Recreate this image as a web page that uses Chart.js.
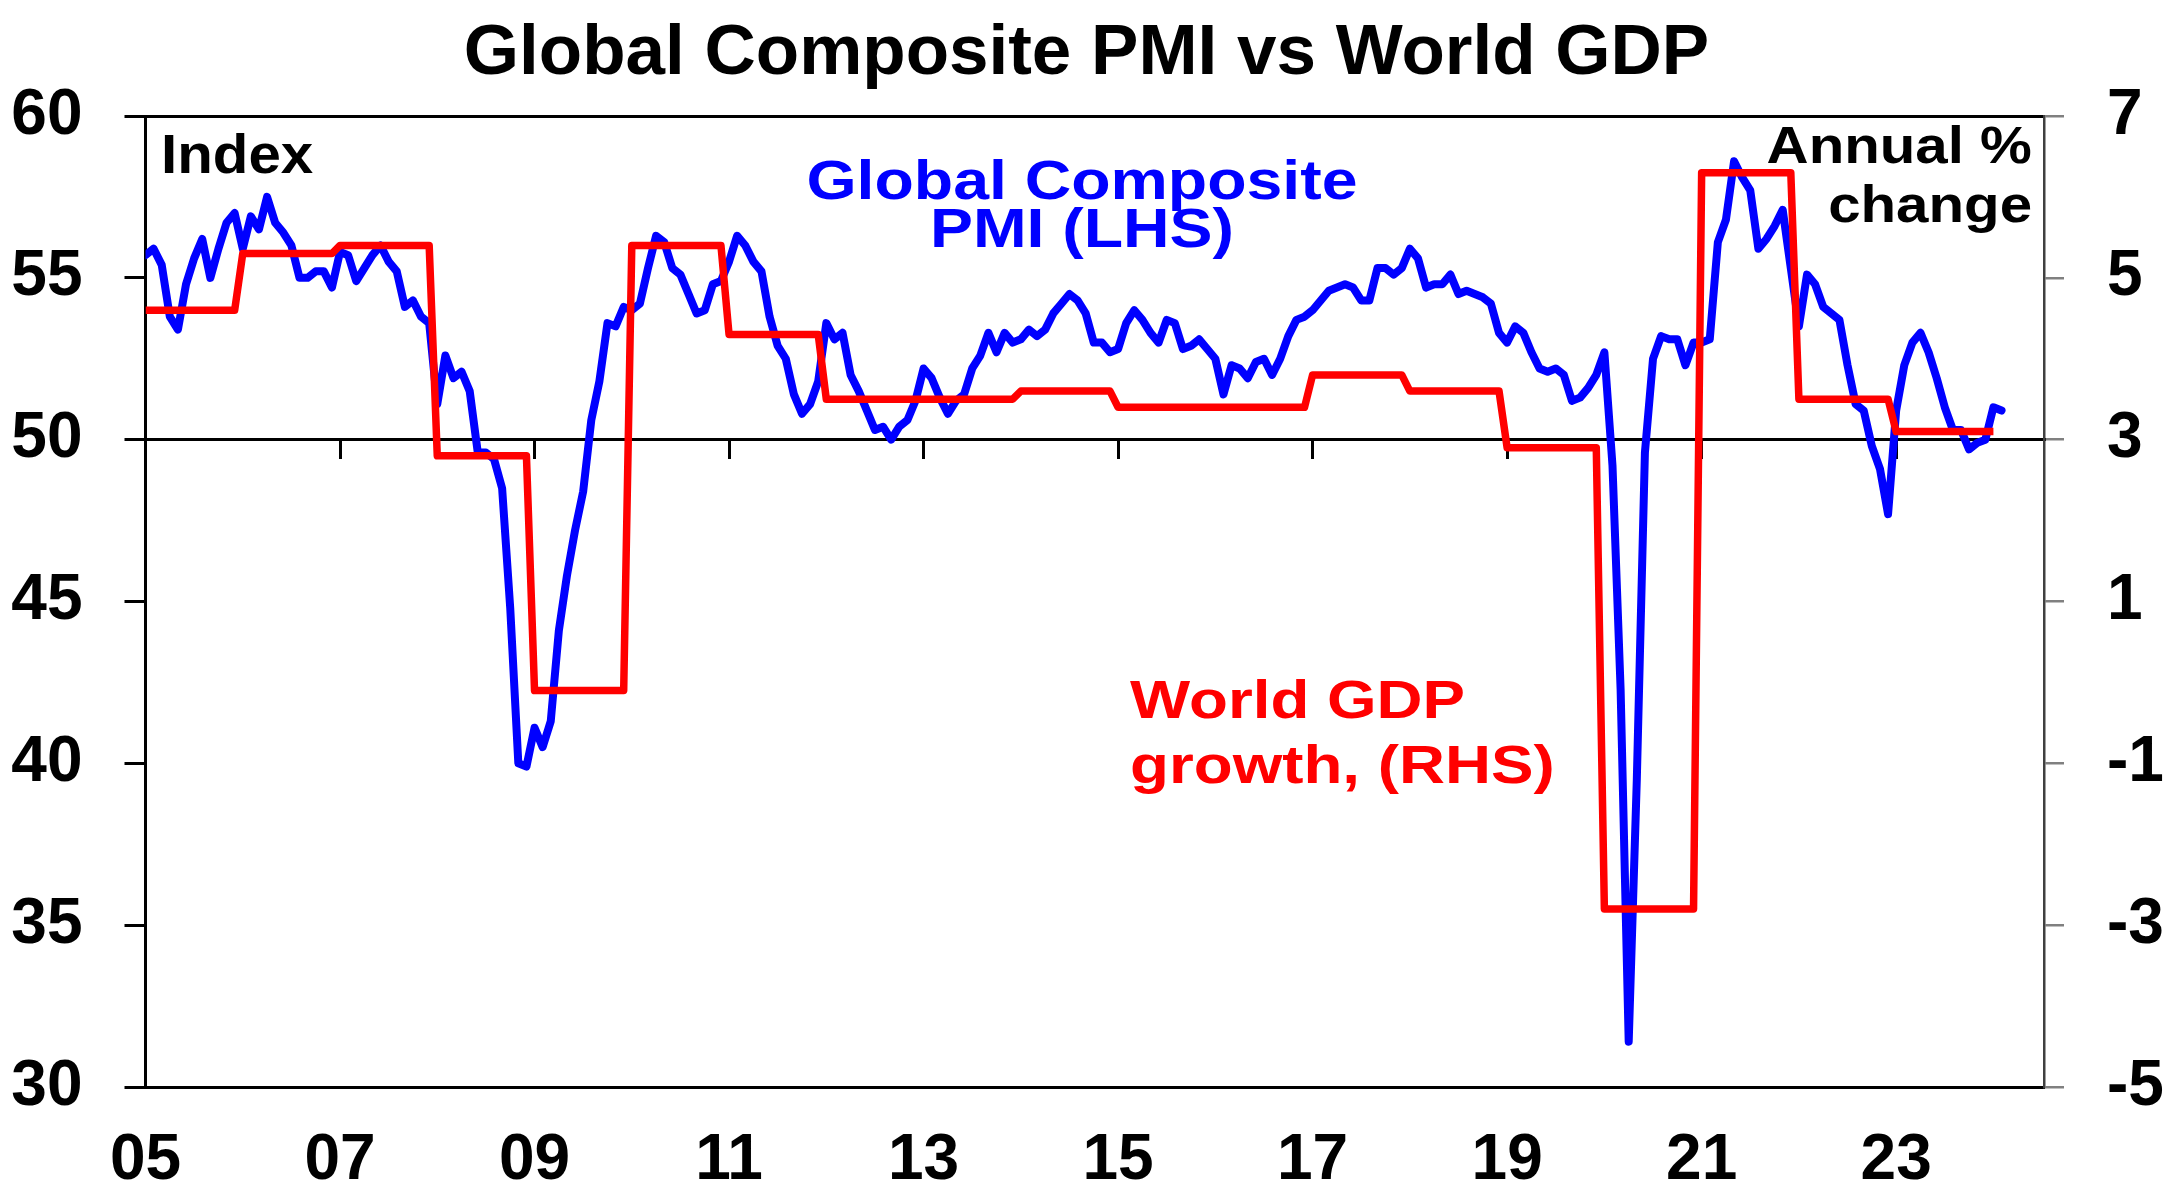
<!DOCTYPE html>
<html><head><meta charset="utf-8">
<script src="https://cdn.jsdelivr.net/npm/chart.js@4.4.1/dist/chart.umd.min.js"></script>
<style>
html,body{margin:0;padding:0;background:#fff;}
#wrap{position:relative;width:2173px;height:1200px;overflow:hidden;}
#c{position:absolute;left:0;top:0;}
.lbl{position:absolute;font-family:'Liberation Sans',Arial,sans-serif;font-weight:bold;white-space:nowrap;line-height:1;}
</style></head><body>
<div id="wrap">
<canvas id="c" width="2173" height="1200"></canvas>
<div class="lbl" style="left:161px;top:127px;font-size:55px;color:#000;transform:scaleX(1.06);transform-origin:left top;">Index</div>
<div class="lbl" style="left:582px;top:152px;width:1000px;text-align:center;font-size:56px;color:#0000ff;transform:scaleX(1.15);transform-origin:center top;">Global Composite</div>
<div class="lbl" style="left:582px;top:200px;width:1000px;text-align:center;font-size:56px;color:#0000ff;transform:scaleX(1.15);transform-origin:center top;">PMI (LHS)</div>
<div class="lbl" style="right:141px;top:119px;text-align:right;font-size:52px;color:#000;transform:scaleX(1.12);transform-origin:right top;">Annual %</div>
<div class="lbl" style="right:141px;top:178px;text-align:right;font-size:52px;color:#000;transform:scaleX(1.12);transform-origin:right top;">change</div>
<div class="lbl" style="left:1130px;top:672px;font-size:54px;color:#ff0000;transform:scaleX(1.18);transform-origin:left top;">World GDP</div>
<div class="lbl" style="left:1130px;top:737px;font-size:54px;color:#ff0000;transform:scaleX(1.18);transform-origin:left top;">growth, (RHS)</div>
</div>
<script>
// ---- data ----
const chartTitle = 'Global Composite PMI vs World GDP';
const pmiStartYear = 2005; // monthly series, first value = Jan 2005
const pmiValues = [
  55.7, 55.9, 55.4, 53.8, 53.4, 54.8, 55.6, 56.2, 55.0, 55.9, 56.7, 57.0,
  55.9, 56.9, 56.5, 57.5, 56.7, 56.4, 56.0, 55.0, 55.0, 55.2, 55.2, 54.7,
  55.8, 55.7, 54.9, 55.3, 55.7, 56.0, 55.5, 55.2, 54.1, 54.3, 53.8, 53.6,
  51.1, 52.6, 51.9, 52.1, 51.5, 49.6, 49.6, 49.4, 48.5, 44.8, 40.0, 39.9,
  41.1, 40.5, 41.3, 44.1, 45.8, 47.2, 48.4, 50.6, 51.8, 53.6, 53.5, 54.1,
  54.0, 54.2, 55.3, 56.3, 56.1, 55.3, 55.1, 54.5, 53.9, 54.0, 54.8, 54.9,
  55.5, 56.3, 56.0, 55.5, 55.2, 53.8, 52.9, 52.5, 51.4, 50.8, 51.1, 51.8,
  53.6, 53.1, 53.3, 52.0, 51.5, 50.9, 50.3, 50.4, 50.0, 50.4, 50.6, 51.2,
  52.2, 51.9, 51.3, 50.8, 51.2, 51.4, 52.2, 52.6, 53.3, 52.7, 53.3, 53.0,
  53.1, 53.4, 53.2, 53.4, 53.9, 54.2, 54.5, 54.3, 53.9, 53.0, 53.0, 52.7,
  52.8, 53.6, 54.0, 53.7, 53.3, 53.0, 53.7, 53.6, 52.8, 52.9, 53.1, 52.8,
  52.5, 51.4, 52.3, 52.2, 51.9, 52.4, 52.5, 52.0, 52.5, 53.2, 53.7, 53.8,
  54.0, 54.3, 54.6, 54.7, 54.8, 54.7, 54.3, 54.3, 55.3, 55.3, 55.1, 55.3,
  55.9, 55.6, 54.7, 54.8, 54.8, 55.1, 54.5, 54.6, 54.5, 54.4, 54.2, 53.3,
  53.0, 53.5, 53.3, 52.7, 52.2, 52.1, 52.2, 52.0, 51.2, 51.3, 51.6, 52.0,
  52.7, 49.2, 42.3, 31.4, 39.5, 49.6, 52.5, 53.2, 53.1, 53.1, 52.3, 53.0,
  53.0, 53.1, 56.1, 56.8, 58.6, 58.1, 57.7, 55.9, 56.2, 56.6, 57.1, 55.3,
  53.5, 55.1, 54.8, 54.1, 53.9, 53.7, 52.3, 51.1, 50.9, 49.8, 49.1, 47.7,
  50.9, 52.3, 53.0, 53.3, 52.7, 51.9, 51.0, 50.3, 50.3, 49.7, 49.9, 50.0,
  51.0, 50.9
];
// annual world GDP growth, shown as a level held through each year
const gdpYears  = [2005, 2006, 2007, 2008, 2009, 2010, 2011, 2012, 2013, 2014, 2015, 2016, 2017, 2018, 2019, 2020, 2021, 2022, 2023, 2024];
const gdpGrowth = [ 4.6,  5.3,  5.4,  2.8, -0.1,  5.4,  4.3,  3.5,  3.5,  3.6,  3.4,  3.4,  3.8,  3.6,  2.9, -2.8,  6.3,  3.5,  3.1,  3.1];
const gdpLastMonth = 2024; // series ends Jan 2024
const xTickYears  = [2005, 2007, 2009, 2011, 2013, 2015, 2017, 2019, 2021, 2023];
const xTickLabels = ['05', '07', '09', '11', '13', '15', '17', '19', '21', '23'];
const lhsTicks = [30, 35, 40, 45, 50, 55, 60];
const rhsTicks = [-5, -3, -1, 1, 3, 5, 7];
const xMin = 2005, xMax = 2024.52;

// ---- build datasets ----
const pmiPoints = pmiValues.map((v, i) => ({x: pmiStartYear + i / 12, y: v}));
const gdpPoints = [];
gdpYears.forEach((yr, k) => {
  gdpPoints.push({x: yr, y: gdpGrowth[k]});                                   // January
  const dec = Math.min(yr + 11 / 12, gdpLastMonth);
  if (dec > yr) gdpPoints.push({x: dec, y: gdpGrowth[k]});                    // December
});

const FONT = "'Liberation Sans', Arial, sans-serif";
const tickFont = {family: FONT, size: 64, weight: 'bold', lineHeight: 1};
const setTicks = (arr) => (scale) => { scale.ticks = arr.map(v => ({value: v})); };
const fixWidth = (w) => (scale) => { scale.width = w; };
const fixHeight = (h) => (scale) => { scale.height = h; };

new Chart(document.getElementById('c'), {
  type: 'line',
  data: {
    datasets: [
      {label: 'World GDP growth, (RHS)', data: gdpPoints, yAxisID: 'y1', xAxisID: 'x',
       borderColor: '#ff0000', borderWidth: 7.5, pointRadius: 0, tension: 0,
       borderJoinStyle: 'round', borderCapStyle: 'butt', order: 0},
      {label: 'Global Composite PMI (LHS)', data: pmiPoints, yAxisID: 'y', xAxisID: 'x',
       borderColor: '#0000ff', borderWidth: 8, pointRadius: 0, tension: 0,
       borderJoinStyle: 'round', borderCapStyle: 'round', order: 1}
    ]
  },
  options: {
    responsive: false, animation: false, devicePixelRatio: 1,
    layout: {padding: 0},
    plugins: {
      legend: {display: false}, tooltip: {enabled: false},
      title: {display: true, text: chartTitle, color: '#000',
              font: {family: FONT, size: 71, weight: 'bold', lineHeight: 1.2},
              padding: {top: 12, bottom: 18.8}}
    },
    scales: {
      x: {type: 'linear', position: 'bottom', min: xMin, max: xMax,
          afterBuildTicks: setTicks(xTickYears), afterFit: fixHeight(113),
          ticks: {callback: (v, i) => xTickLabels[i], font: tickFont, color: '#000', padding: 42,
                  maxRotation: 0, autoSkip: false},
          grid: {display: false, drawTicks: false},
          border: {display: true, color: '#000', width: 3}},
      xMid: {type: 'linear', position: {y: 50}, min: xMin, max: xMax,
          afterBuildTicks: setTicks(xTickYears),
          ticks: {display: false},
          grid: {display: true, drawOnChartArea: false, drawTicks: true, tickLength: 18, color: '#000', lineWidth: 3},
          border: {display: true, color: '#000', width: 3}},
      xTop: {type: 'linear', position: 'top', min: xMin, max: xMax,
          ticks: {display: false},
          grid: {display: false, drawTicks: false},
          border: {display: true, color: '#000', width: 3}},
      y: {type: 'linear', position: 'left', min: 30, max: 60,
          afterBuildTicks: setTicks(lhsTicks), afterFit: fixWidth(145.5),
          ticks: {font: tickFont, color: '#000', padding: 42},
          grid: {display: true, drawOnChartArea: false, drawTicks: true, tickLength: 21, color: '#000', lineWidth: 3},
          border: {display: true, color: '#000', width: 3}},
      y1: {type: 'linear', position: 'right', min: -5, max: 7,
          afterBuildTicks: setTicks(rhsTicks), afterFit: fixWidth(129),
          ticks: {font: tickFont, color: '#000', padding: 43},
          grid: {display: true, drawOnChartArea: false, drawTicks: true, tickLength: 20, color: '#808080', lineWidth: 2.5},
          border: {display: true, color: '#404040', width: 2.5}}
    }
  }
});
</script>
</body></html>
